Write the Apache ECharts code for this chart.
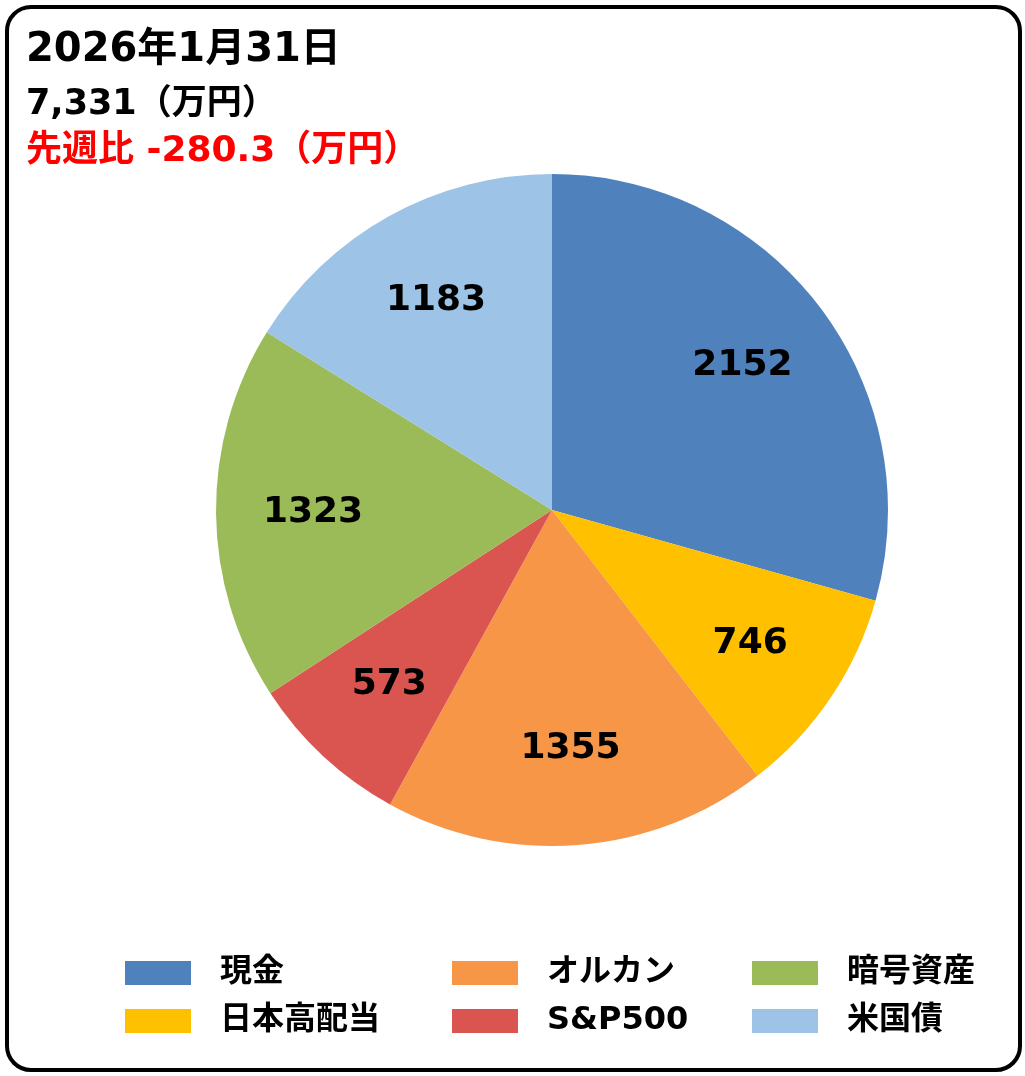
<!DOCTYPE html>
<html><head><meta charset="utf-8">
<script src="https://cdn.jsdelivr.net/npm/echarts@6/dist/echarts.min.js"></script>
<style>
html,body{margin:0;padding:0;background:#fff;}
#frame{position:absolute;left:5px;top:5px;width:1009px;height:1059px;border:4px solid #000;border-radius:26px;background:#fff;}
#c{position:absolute;left:0;top:0;width:1025px;height:1076px;}
</style></head>
<body>
<div id="frame"></div>
<div id="c"></div>
<script>
const categories = ['現金','日本高配当','オルカン','S&P500','暗号資産','米国債'];
const values = [2152, 746, 1355, 573, 1323, 1183];
const colors = ['#4F81BD','#FFC000','#F79646','#DA5550','#9BBB59','#9DC3E6'];
const titleLines = ['2026年1月31日','7,331（万円）','先週比 -280.3（万円）'];
const legendColumns = [['現金','日本高配当'],['オルカン','S&P500'],['暗号資産','米国債']];

const font = '"DejaVu Sans","Noto Sans CJK JP",sans-serif';
const data = categories.map((n,i)=>({name:n, value:values[i], itemStyle:{color:colors[i]}}));
const chart = echarts.init(document.getElementById('c'), null, {renderer:'canvas'});
const legendLeft = [120, 447, 747];
chart.setOption({
  animation:false,
  title:[
    {text:titleLines[0], left:21, top:26, textStyle:{fontSize:40, fontWeight:'bold', color:'#000', fontFamily:font}},
    {text:titleLines[1], left:21, top:82, textStyle:{fontSize:35, fontWeight:'bold', color:'#000', fontFamily:font}},
    {text:titleLines[2], left:21, top:129, textStyle:{fontSize:36, fontWeight:'bold', color:'#FF0000', fontFamily:font}}
  ],
  legend: legendColumns.map((col,i)=>({
    data:col, orient:'vertical', left:legendLeft[i], top:952,
    itemWidth:66, itemHeight:24, itemGap:16, icon:'rect', selectedMode:false,
    textStyle:{fontSize:32, fontWeight:'bold', color:'#000', fontFamily:font, padding:[0,0,0,24]}
  })),
  series:[
    {type:'pie', center:[552,510], radius:[0,336], startAngle:90, clockwise:true,
     data:data, label:{show:false}, labelLine:{show:false}, silent:true},
    {type:'pie', center:[552,510], radius:[136,336], startAngle:90, clockwise:true,
     data:data.map(d=>({name:d.name, value:d.value, itemStyle:{color:'rgba(0,0,0,0)'}})),
     legendHoverLink:false, silent:true,
     label:{show:true, position:'inside', formatter:'{c}', fontSize:36, fontWeight:'bold', color:'#000', fontFamily:font},
     labelLine:{show:false}}
  ]
});
</script>
</body></html>
